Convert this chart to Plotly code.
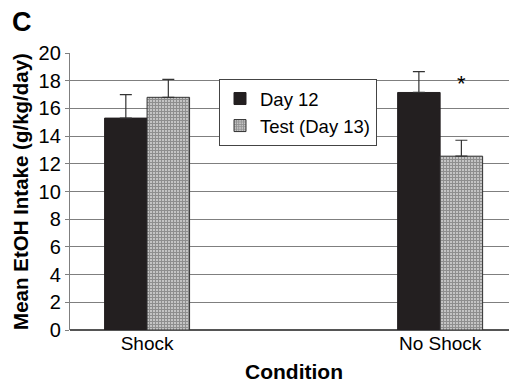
import plotly.graph_objects as go

categories = ["Shock", "No Shock"]
day12 = [15.3, 17.15]
day12_err = [1.7, 1.5]
test13 = [16.8, 12.55]
test13_err = [1.3, 1.15]
sig_label = "*"
sig_y = 17.8

xpos = [0, 1]
bw = 0.145

fig = go.Figure()
fig.add_trace(go.Bar(
    x=xpos, y=day12, name="Day 12", width=bw, offset=-bw,
    marker=dict(color="#231f20", line=dict(color="#231f20", width=1)),
    error_y=dict(type="data", array=day12_err, arrayminus=[0, 0], symmetric=False,
                 color="#333", thickness=1.2, width=6),
))
fig.add_trace(go.Bar(
    x=xpos, y=test13, name="Test (Day 13)", width=bw, offset=0,
    marker=dict(color="white", line=dict(color="#333", width=1),
                pattern=dict(shape="+", fgcolor="#1e1e1e", bgcolor="white", size=3, solidity=0.82)),
    error_y=dict(type="data", array=test13_err, arrayminus=[0, 0], symmetric=False,
                 color="#333", thickness=1.2, width=6),
))

fig.add_annotation(x=1 + bw / 2, y=sig_y, text=sig_label, showarrow=False,
                   font=dict(size=22, color="black", family="Liberation Sans"))
fig.add_annotation(x=0.5, y=-0.2, xref="x", yref="paper", text="<b>Condition</b>",
                   showarrow=False, font=dict(size=21, color="black", family="Liberation Sans"))
fig.add_annotation(x=-60/439, xanchor="left", y=1.175, xref="paper", yref="paper", yanchor="top",
                   text="<b>C</b>", showarrow=False,
                   font=dict(size=27, color="black", family="Liberation Sans"))

fig.update_layout(
    width=509, height=389,
    margin=dict(l=70, r=0, t=53, b=59),
    paper_bgcolor="white", plot_bgcolor="white",
    font=dict(family="Liberation Sans", color="black", size=19),
    barmode="overlay",
    showlegend=True,
    legend=dict(x=(219 - 70) / 439, y=(330 - 79) / 277, xanchor="left", yanchor="top",
                bgcolor="white", bordercolor="#444", borderwidth=1,
                font=dict(size=18.5), itemwidth=30, tracegroupgap=0),
    xaxis=dict(range=[-0.263, 1.235], tickvals=xpos, ticktext=categories,
               showgrid=False, zeroline=False, showline=False, ticks="",
               tickfont=dict(size=19)),
    yaxis=dict(range=[0, 20], dtick=2, showgrid=True, gridcolor="#7f7f7f", gridwidth=1.3,
               showline=True, linecolor="#7f7f7f", linewidth=1.3, ticks="outside",
               ticklen=4, tickcolor="#7f7f7f", zeroline=True, zerolinecolor="#555",
               zerolinewidth=1.5, tickfont=dict(size=20),
               title=dict(text="<b>Mean EtOH Intake (g/kg/day)</b>", font=dict(size=20.5), standoff=4)),
)

fig.write_html("out.html")
